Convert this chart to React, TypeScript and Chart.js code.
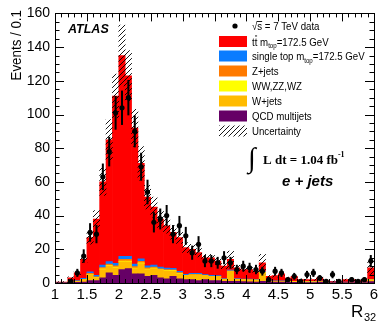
import React, { useEffect, useRef } from 'react';
import { Chart, registerables } from 'chart.js';
Chart.register(...registerables);

// ---------------- data ----------------
const categories = [
  '1.05','1.15','1.25','1.35','1.45','1.55','1.65','1.75','1.85','1.95',
  '2.05','2.15','2.25','2.35','2.45','2.55','2.65','2.75','2.85','2.95',
  '3.05','3.15','3.25','3.35','3.45','3.55','3.65','3.75','3.85','3.95',
  '4.05','4.15','4.25','4.35','4.45','4.55','4.65','4.75','4.85','4.95',
  '5.05','5.15','5.25','5.35','5.45','5.55','5.65','5.75','5.85','5.95',
];

const ttbar = [0.3,0.3,2.2,4.6,11.3,20.3,33.4,49.3,72.3,99.3, 119.2,107.2,80.8,56.6,40.8,34.3,28.6,25.1,21.3,20, 15.8,14.3,12.3,10,10.5,8.6,7.4,6.4,6.4,5.6, 5.7,4.8,5,2.6,3.1,4.1,1.9,2.9,1.2,1.2, 1.2,1.9,0.85,0.5,0.5,1.5,1.5,1,1.5,7];
const singleTop = [0,0,0.1,0.3,0.5,1,1,1.5,1.5,1.5, 1.8,1.8,1.5,1.5,1.2,1.2,1,1,0.9,0.8, 0.6,0.6,0.6,0.5,0.5,0.4,0.3,0.4,0.3,0.3, 0.3,0.3,0.3,0.2,0.2,0.2,0.1,0.1,0.1,0.1, 0.1,0.1,0.1,0.05,0.05,0.05,0.05,0.05,0.05,0.1];
const zJets = [0,0,0.1,0.1,0.3,0.5,0.4,0.8,0.8,0.8, 1,1,0.8,1,0.7,0.7,0.6,0.6,0.5,0.5, 0.4,0.4,0.4,0.3,0.3,0.3,0.2,0.5,0.2,0.2, 0.2,0.2,0.5,0.1,0.1,0.1,0.1,0.1,0.05,0.05, 0.05,0.05,0.05,0.05,0.05,0.05,0.05,0.05,0.05,0.1];
const diboson = [0,0,0,0,0.1,0.2,0.2,0.4,0.4,0.4, 0.5,0.5,0.4,0.4,0.3,0.3,0.3,0.3,0.3,0.2, 0.2,0.2,0.2,0.2,0.2,0.2,0.1,0.2,0.1,0.1, 0.1,0.1,0.2,0.05,0.05,0.05,0.05,0.05,0.05,0.05, 0.05,0.05,0,0,0,0,0,0,0,0.05];
const wJets = [0,0,0.4,0.6,1.2,3.5,1.5,5,4,4.5, 4.5,4,3,6,4,4,4.5,4.5,3,3, 2,2.5,3,2,2,2,1,5.5,1,1, 1,1,5,0.5,0.5,0.5,0.4,0.4,0.3,0.3, 0.3,0.4,0.2,0.2,0.2,0.2,0.2,0.2,0.2,1];
const qcd = [0.3,0.3,0.2,0.4,0.6,1.5,1.5,3,6,4.5, 8,8.5,5.5,5.5,4,4.5,3,2.5,4,2.5, 2,2,1.5,2,1.5,1.5,1,1,1,0.8, 0.7,0.6,1,0.5,0.5,0.5,0.4,0.4,0.3,0.3, 0.3,0.5,0.3,0.2,0.2,0.2,0.2,0.2,0.2,0.8];
const uncertainty = [0.2,0.2,0.6,1,2,4,5,8,12,13, 18,15,11,10,7,6,5,4.5,4,3.5, 3,3,2.5,2,2,2,1.5,5,1.5,1.2, 1.2,1.2,5,0.8,0.8,0.8,0.6,0.6,0.5,0.5, 0.5,0.5,0.4,0.3,0.3,0.4,0.4,0.3,0.4,4];
const dataCounts = [0,0,1,6,16,30,29,63,78,101, 104,110,90,69,54,36,38,40,29,34, 28,18,23,13,13,12,15,12,8,10, 9,8,7,2,7,6,2,4,1,5, 6,3,1,5,1,0,2,1,2,13];
const dataErr = [0,0,1,2.4,4,5.5,5.4,7.9,8.8,10, 10.2,10.5,9.5,8.3,7.3,6,6.2,6.3,5.4,5.8, 5.3,4.2,4.8,3.6,3.6,3.5,3.9,3.5,2.8,3.2, 3,2.8,2.6,1.4,2.6,2.4,1.4,2,1,2.2, 2.4,1.7,1,2.2,1,0,1.4,1,1.4,3.6];

const xTickValues = [1, 1.5, 2, 2.5, 3, 3.5, 4, 4.5, 5, 5.5, 6];
const xTickLabels = ['1', '1.5', '2', '2.5', '3', '3.5', '4', '4.5', '5', '5.5', '6'];
const yTickValues = [0, 20, 40, 60, 80, 100, 120, 140, 160];
const yTickLabels = ['0', '20', '40', '60', '80', '100', '120', '140', '160'];

const COLORS = {
  tt: '#FF0000',
  st: '#0A7CFF',
  z: '#FF7A00',
  db: '#FFFF00',
  w: '#FFBB00',
  qcd: '#660066',
};

const SANS = '"Liberation Sans", Arial, Helvetica, sans-serif';
const SERIF = '"Liberation Serif", "Times New Roman", serif';

type Run = { t: string; size: number; dy?: number; style?: string };

// draws runs of text starting at x (in a horizontally scaled space)
function drawRuns(ctx: CanvasRenderingContext2D, x: number, y: number, runs: Run[], sx = 1, family = SANS) {
  ctx.save();
  ctx.translate(x, y);
  ctx.scale(sx, 1);
  let cx = 0;
  const pos: number[] = [];
  for (const r of runs) {
    ctx.font = `${r.style || ''} ${r.size}px ${family}`;
    pos.push(cx);
    ctx.fillText(r.t, cx, r.dy || 0);
    cx += ctx.measureText(r.t).width;
  }
  ctx.restore();
  return pos.map((p) => x + p * sx);
}

export default function App() {
  const ref = useRef<HTMLCanvasElement>(null);

  useEffect(() => {
    document.body.style.margin = '0';
    const canvas = ref.current!;
    const ctx = canvas.getContext('2d')!;

    // hatch pattern (ROOT style 3004 like)
    const pc = document.createElement('canvas');
    pc.width = 5; pc.height = 5;
    const p = pc.getContext('2d')!;
    p.strokeStyle = '#000';
    p.lineWidth = 0.9;
    p.beginPath();
    p.moveTo(-1, 6); p.lineTo(6, -1);
    p.moveTo(-1, 1); p.lineTo(1, -1);
    p.moveTo(4, 6); p.lineTo(6, 4);
    p.stroke();
    const hatch = ctx.createPattern(pc, 'repeat')!;

    const totals = categories.map((_, i) => qcd[i] + wJets[i] + diboson[i] + zJets[i] + singleTop[i] + ttbar[i]);
    const band = totals.map((t, i) => [Math.max(0, t - uncertainty[i]), t + uncertainty[i]]);
    const points = dataCounts.map((v) => (v > 0 ? v : null));

    const decor = {
      id: 'decor',
      afterDatasetsDraw(chart: any) {
        const c = chart.ctx as CanvasRenderingContext2D;
        const y2 = chart.scales.y2;
        const meta = chart.getDatasetMeta(7);
        c.save();
        c.strokeStyle = '#000';
        c.lineWidth = 2;
        dataCounts.forEach((v, i) => {
          if (v <= 0) return;
          const el = meta.data[i];
          const x = el.x;
          c.beginPath();
          c.moveTo(x, y2.getPixelForValue(v - dataErr[i]));
          c.lineTo(x, y2.getPixelForValue(v + dataErr[i]));
          c.stroke();
        });
        c.restore();
      },
      afterDraw(chart: any) {
        const c = chart.ctx as CanvasRenderingContext2D;
        const a = chart.chartArea;
        const ys = chart.scales.y;
        const xs = chart.scales.xd;
        c.save();
        // frame
        c.strokeStyle = '#000';
        c.lineWidth = 1;
        c.strokeRect(Math.round(a.left) + 0.5, Math.round(a.top) + 0.5, Math.round(a.right - a.left), Math.round(a.bottom - a.top));
        // y ticks (both sides, inward)
        c.beginPath();
        for (let v = 0; v <= 160; v += 5) {
          const py = Math.round(ys.getPixelForValue(v)) + 0.5;
          const len = v % 20 === 0 ? 9 : 4.5;
          c.moveTo(a.left, py); c.lineTo(a.left + len, py);
          c.moveTo(a.right, py); c.lineTo(a.right - len, py);
        }
        // x ticks (top and bottom, inward)
        for (let i = 0; i <= 50; i++) {
          const v = 1 + i / 10;
          const px = Math.round(xs.getPixelForValue(v)) + 0.5;
          const len = i % 5 === 0 ? 8 : 4;
          c.moveTo(px, a.bottom); c.lineTo(px, a.bottom - len);
          c.moveTo(px, a.top); c.lineTo(px, a.top + len);
        }
        c.stroke();

        c.fillStyle = '#000';
        c.textBaseline = 'alphabetic';
        c.textAlign = 'left';

        // y-axis title
        c.save();
        c.translate(21, 10);
        c.rotate(-Math.PI / 2);
        c.textAlign = 'right';
        c.font = `14.5px ${SANS}`;
        c.scale(0.92, 1);
        c.fillText('Events / 0.1', 0, 0);
        c.restore();

        // x-axis title R_32
        c.font = `17px ${SANS}`;
        c.fillText('R', 351, 317);
        c.font = `11px ${SANS}`;
        c.fillText('32', 364, 321);

        // ATLAS
        c.font = `italic bold 12.5px ${SANS}`;
        c.fillText('ATLAS', 68, 33);

        // legend
        const boxX = 219, boxW = 28, boxH = 11, textX = 252;
        const fs = 11;
        const sx = 0.88;
        // data row
        c.beginPath();
        c.arc(235, 26, 2.6, 0, Math.PI * 2);
        c.fill();
        const pos0 = drawRuns(c, textX, 30, [{ t: '\u221A', size: fs }, { t: 's = 7 TeV data', size: fs }], sx);
        c.font = `${fs}px ${SANS}`;
        const wS = c.measureText('s').width * sx;
        c.fillRect(pos0[1] - 0.5, 21, wS + 0.5, 0.9);

        const rows: { color: any; y: number; runs: Run[]; tt?: boolean }[] = [
          { color: COLORS.tt, y: 41.5, runs: [{ t: 't', size: fs }, { t: 't', size: fs }, { t: ' m', size: fs }, { t: 'top', size: 7, dy: 2.5 }, { t: '=172.5 GeV', size: fs }], tt: true },
          { color: COLORS.st, y: 56, runs: [{ t: 'single top m', size: fs }, { t: 'top', size: 7, dy: 2.5 }, { t: '=172.5 GeV', size: fs }] },
          { color: COLORS.z, y: 71, runs: [{ t: 'Z+jets', size: fs }] },
          { color: COLORS.db, y: 86, runs: [{ t: 'WW,ZZ,WZ', size: fs }] },
          { color: COLORS.w, y: 101, runs: [{ t: 'W+jets', size: fs }] },
          { color: COLORS.qcd, y: 116, runs: [{ t: 'QCD multijets', size: fs }] },
          { color: hatch, y: 131, runs: [{ t: 'Uncertainty', size: fs }] },
        ];
        for (const r of rows) {
          c.fillStyle = r.color;
          c.fillRect(boxX, r.y - boxH / 2, boxW, boxH);
          c.fillStyle = '#000';
          const pos = drawRuns(c, textX, r.y + 4, r.runs, sx);
          if (r.tt) {
            c.fillRect(pos[1] + 0.3, r.y - 6, pos[2] - pos[1] - 0.6, 0.9);
          }
        }

        // integral luminosity
        c.font = `28px ${SERIF}`;
        c.fillText('\u222B', 248, 167);
        c.font = `bold 13px ${SERIF}`;
        c.fillText('L dt = 1.04 fb', 263, 164);
        const wl = c.measureText('L dt = 1.04 fb').width;
        c.font = `bold 8px ${SERIF}`;
        c.fillText('-1', 263 + wl, 157);

        // e + jets
        c.font = `italic bold 15px ${SANS}`;
        c.fillText('e + jets', 282, 186);

        c.restore();
      },
    };

    const chart = new Chart(canvas, {
      type: 'bar',
      data: {
        labels: categories,
        datasets: [
          { label: 'QCD multijets', data: qcd, backgroundColor: COLORS.qcd, yAxisID: 'y', xAxisID: 'x' },
          { label: 'W+jets', data: wJets, backgroundColor: COLORS.w, yAxisID: 'y', xAxisID: 'x' },
          { label: 'WW,ZZ,WZ', data: diboson, backgroundColor: COLORS.db, yAxisID: 'y', xAxisID: 'x' },
          { label: 'Z+jets', data: zJets, backgroundColor: COLORS.z, yAxisID: 'y', xAxisID: 'x' },
          { label: 'single top', data: singleTop, backgroundColor: COLORS.st, yAxisID: 'y', xAxisID: 'x' },
          { label: 'ttbar', data: ttbar, backgroundColor: COLORS.tt, yAxisID: 'y', xAxisID: 'x' },
          { label: 'Uncertainty', data: band as any, backgroundColor: hatch as any, yAxisID: 'y2', xAxisID: 'x', order: -1 },
          {
            type: 'line', label: 'data', data: points as any, yAxisID: 'y2', xAxisID: 'x',
            showLine: false, pointRadius: 2.6, pointBackgroundColor: '#000', pointBorderWidth: 0, order: -2,
          } as any,
        ],
      },
      options: {
        responsive: false,
        animation: false,
        events: [],
        layout: { padding: { top: 13, right: 16, left: 0, bottom: 0 } },
        datasets: { bar: { barPercentage: 1, categoryPercentage: 1, borderWidth: 0 } } as any,
        plugins: { legend: { display: false }, tooltip: { enabled: false }, title: { display: false } },
        scales: {
          x: { type: 'category', display: false, stacked: true, offset: true },
          xd: {
            type: 'linear', position: 'bottom', min: 1, max: 6, offset: false,
            grid: { display: false, drawTicks: false, offset: false },
            border: { display: false },
            afterBuildTicks: (s: any) => { s.ticks = xTickValues.map((v) => ({ value: v })); },
            afterFit: (s: any) => { s.height = 39; },
            ticks: {
              color: '#000', padding: 3, maxRotation: 0, autoSkip: false,
              font: { family: SANS, size: 15 },
              callback: (_v: any, i: number) => xTickLabels[i],
            },
          },
          y: {
            type: 'linear', position: 'left', stacked: true, min: 0, max: 160,
            grid: { display: false, drawTicks: false },
            border: { display: false },
            afterBuildTicks: (s: any) => { s.ticks = yTickValues.map((v) => ({ value: v })); },
            afterFit: (s: any) => { s.width = 55; },
            ticks: {
              color: '#000', padding: 5, autoSkip: false,
              font: { family: SANS, size: 14 },
              callback: (_v: any, i: number) => yTickLabels[i],
            },
          },
          y2: { type: 'linear', display: false, min: 0, max: 160, stacked: false },
        },
      } as any,
      plugins: [decor],
    });
    return () => chart.destroy();
  }, []);

  return (
    <div style={{ position: 'absolute', left: 0, top: 0, width: 390, height: 322, background: '#fff' }}>
      <canvas ref={ref} width={390} height={322} style={{ width: 390, height: 322, display: 'block' }} />
    </div>
  );
}
